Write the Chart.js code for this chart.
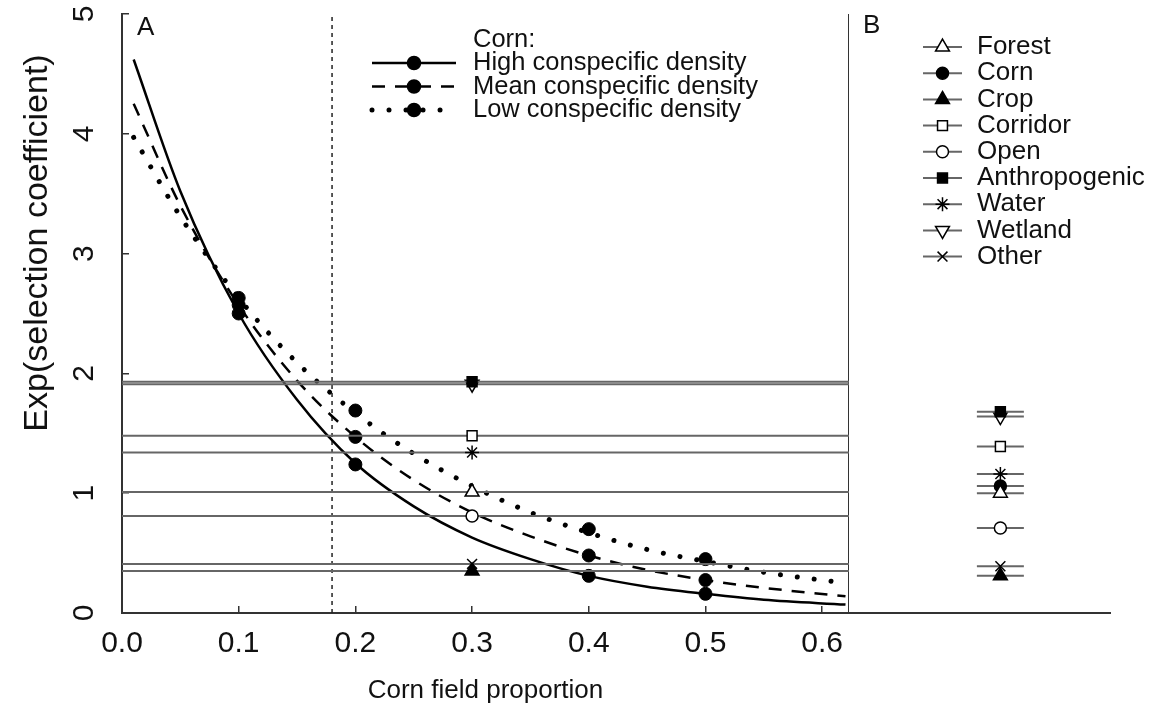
<!DOCTYPE html>
<html>
<head>
<meta charset="utf-8">
<script src="https://cdn.jsdelivr.net/npm/chart.js@4.4.1/dist/chart.umd.min.js"></script>
<style>
  html, body { margin: 0; padding: 0; background: #fff; }
</style>
</head>
<body>
<canvas id="chart" width="1170" height="715"></canvas>
<script>
// ---- data ----
// panel A: fitted corn selection curves (exp scale) vs corn field proportion
const curveX = [0.01, 0.05, 0.1, 0.15, 0.2, 0.25, 0.3, 0.35, 0.4, 0.45, 0.5, 0.55, 0.62];
const highCurve = [4.62, 3.52, 2.50, 1.78, 1.25, 0.89, 0.63, 0.45, 0.31, 0.22, 0.16, 0.11, 0.07];
const meanCurve = [4.25, 3.40, 2.57, 1.94, 1.47, 1.11, 0.84, 0.64, 0.48, 0.36, 0.275, 0.21, 0.14];
const lowCurve = [3.97, 3.31, 2.63, 2.09, 1.67, 1.33, 1.06, 0.84, 0.67, 0.53, 0.43, 0.34, 0.25];

// observed corn points
const cornX = [0.1, 0.2, 0.4, 0.5];
const highPts = [2.50, 1.24, 0.31, 0.16];
const meanPts = [2.57, 1.47, 0.48, 0.275];
const lowPts = [2.63, 1.69, 0.70, 0.45];

// other habitats: panel A (marker at corn proportion 0.3) and panel B
const habitats = ['Forest', 'Corn', 'Crop', 'Corridor', 'Open', 'Anthropogenic', 'Water', 'Wetland', 'Other'];
const habitatA = [1.01, null, 0.35, 1.48, 0.81, 1.93, 1.34, 1.91, 0.41];
const habitatB = [1.00, 1.06, 0.31, 1.39, 0.71, 1.68, 1.16, 1.64, 0.39];
const habitatAX = 0.3;

const thresholdX = 0.18;
const xMax = 0.623;
const xTicks = [0, 0.1, 0.2, 0.3, 0.4, 0.5, 0.6];
const xTickLabels = ['0.0', '0.1', '0.2', '0.3', '0.4', '0.5', '0.6'];
const yTicks = [0, 1, 2, 3, 4, 5];

const FONT = '"Liberation Sans", Arial, sans-serif';
const AXIS = '#333';
const HLINE = '#666';

// marker look for each habitat
const markers = {
  Forest:        { pointStyle: 'triangle', rotation: 0,   fill: '#fff', radius: 8 },
  Corn:          { pointStyle: 'circle',   rotation: 0,   fill: '#000', radius: 6 },
  Crop:          { pointStyle: 'triangle', rotation: 0,   fill: '#000', radius: 8 },
  Corridor:      { pointStyle: 'rect',     rotation: 0,   fill: '#fff', radius: 7 },
  Open:          { pointStyle: 'circle',   rotation: 0,   fill: '#fff', radius: 6 },
  Anthropogenic: { pointStyle: 'rect',     rotation: 0,   fill: '#000', radius: 7 },
  Water:         { pointStyle: 'star',     rotation: 0,   fill: '#000', radius: 7 },
  Wetland:       { pointStyle: 'triangle', rotation: 180, fill: '#fff', radius: 8 },
  Other:         { pointStyle: 'crossRot', rotation: 0,   fill: '#000', radius: 7 }
};

const curveStyles = [
  { label: 'High conspecific density', ys: highCurve, pts: highPts, dash: [], width: 2.5, cap: 'butt' },
  { label: 'Mean conspecific density', ys: meanCurve, pts: meanPts, dash: [13, 10], width: 2.5, cap: 'butt' },
  { label: 'Low conspecific density', ys: lowCurve, pts: lowPts, dash: [0.01, 17], width: 5, cap: 'round' }
];

const datasets = [];

// habitat lines + markers, panel A
habitats.forEach((h, i) => {
  const v = habitatA[i];
  if (v === null) return;
  const m = markers[h];
  datasets.push({
    type: 'line', xAxisID: 'x', yAxisID: 'y',
    data: [{ x: 0, y: v }, { x: habitatAX, y: v }, { x: xMax, y: v }],
    borderColor: HLINE, borderWidth: 2,
    pointRadius: [0, m.radius, 0],
    pointStyle: m.pointStyle, pointRotation: m.rotation,
    pointBackgroundColor: m.fill, pointBorderColor: '#000', pointBorderWidth: 1.5
  });
});

// habitat segments + markers, panel B
habitats.forEach((h, i) => {
  const v = habitatB[i];
  const m = markers[h];
  datasets.push({
    type: 'line', xAxisID: 'xB', yAxisID: 'y',
    data: [{ x: 0.49, y: v }, { x: 0.58, y: v }, { x: 0.67, y: v }],
    borderColor: HLINE, borderWidth: 2,
    pointRadius: [0, m.radius, 0],
    pointStyle: m.pointStyle, pointRotation: m.rotation,
    pointBackgroundColor: m.fill, pointBorderColor: '#000', pointBorderWidth: 1.5
  });
});

// corn curves and observed points
curveStyles.forEach(c => {
  datasets.push({
    type: 'line', xAxisID: 'x', yAxisID: 'y',
    data: curveX.map((x, i) => ({ x: x, y: c.ys[i] })),
    borderColor: '#000', borderWidth: c.width, borderDash: c.dash, borderCapStyle: c.cap,
    cubicInterpolationMode: 'monotone', pointRadius: 0
  });
  datasets.push({
    type: 'scatter', xAxisID: 'x', yAxisID: 'y',
    data: cornX.map((x, i) => ({ x: x, y: c.pts[i] })),
    pointRadius: 6.5, pointBackgroundColor: '#000', pointBorderColor: '#000'
  });
});

// dotted threshold line and frame between the panels
datasets.push({
  type: 'line', xAxisID: 'x', yAxisID: 'y',
  data: [{ x: thresholdX, y: 0 }, { x: thresholdX, y: 5 }],
  borderColor: '#222', borderWidth: 1.5, borderDash: [4, 4], pointRadius: 0
});
datasets.push({
  type: 'line', xAxisID: 'x', yAxisID: 'y',
  data: [{ x: xMax, y: 0 }, { x: xMax, y: 5 }],
  borderColor: AXIS, borderWidth: 2, pointRadius: 0
});

// legends, panel letters and y title
const drawPoint = Chart.helpers.drawPoint;

function sample(ctx, x0, x1, y, lineOpts, pt) {
  ctx.save();
  ctx.strokeStyle = lineOpts.color;
  ctx.lineWidth = lineOpts.width;
  ctx.setLineDash(lineOpts.dash || []);
  ctx.lineCap = lineOpts.cap || 'butt';
  ctx.beginPath();
  ctx.moveTo(x0, y);
  ctx.lineTo(x1, y);
  ctx.stroke();
  ctx.restore();
  ctx.save();
  ctx.fillStyle = pt.fill;
  ctx.strokeStyle = '#000';
  ctx.lineWidth = 1.5;
  drawPoint(ctx, { pointStyle: pt.pointStyle, rotation: pt.rotation, radius: pt.radius, borderWidth: 1.5 }, (x0 + x1) / 2, y);
  ctx.restore();
}

const extras = {
  id: 'extras',
  afterDraw(chart) {
    const ctx = chart.ctx;
    ctx.save();
    ctx.fillStyle = '#111';
    ctx.textBaseline = 'middle';
    ctx.textAlign = 'left';

    ctx.font = '26px ' + FONT;
    ctx.fillText('A', 137, 28);
    ctx.fillText('B', 863, 26);

    // legend A
    ctx.font = '25.5px ' + FONT;
    ctx.fillText('Corn:', 473, 40);
    curveStyles.forEach((c, i) => {
      const y = 63 + i * 23.5;
      sample(ctx, 372, 456, y, { color: '#000', width: c.width, dash: c.dash, cap: c.cap },
        { pointStyle: 'circle', rotation: 0, radius: 6.5, fill: '#000' });
      ctx.fillStyle = '#111';
      ctx.fillText(c.label, 473, y);
    });

    // legend B
    ctx.font = '26px ' + FONT;
    habitats.forEach((h, i) => {
      const y = 47 + i * 26.2;
      sample(ctx, 923, 962, y, { color: HLINE, width: 2 }, markers[h]);
      ctx.fillStyle = '#111';
      ctx.fillText(h, 977, y);
    });

    // y axis title
    ctx.translate(38, 243);
    ctx.rotate(-Math.PI / 2);
    ctx.textAlign = 'center';
    ctx.font = '34px ' + FONT;
    ctx.fillText('Exp(selection coefficient)', 0, 0);
    ctx.restore();
  }
};

new Chart(document.getElementById('chart').getContext('2d'), {
  data: { datasets: datasets },
  options: {
    responsive: false,
    animation: false,
    devicePixelRatio: 1,
    layout: { padding: { top: 14, right: 60, left: 0, bottom: 0 } },
    plugins: { legend: { display: false }, tooltip: { enabled: false } },
    scales: {
      x: {
        type: 'linear', position: 'bottom', stack: 'bottom', stackWeight: 727,
        min: 0, max: xMax,
        afterBuildTicks: s => { s.ticks = xTicks.map(v => ({ value: v })); },
        afterFit: s => { s.height = 102; s.paddingLeft = 0; s.paddingRight = 0; },
        ticks: {
          color: '#111', padding: 20, font: { family: FONT, size: 30 },
          maxRotation: 0, autoSkip: false,
          callback: (v, i) => xTickLabels[i]
        },
        grid: { drawOnChartArea: false, drawTicks: true, tickLength: -7, color: AXIS, lineWidth: 1.5 },
        border: { color: AXIS, width: 2 },
        title: {
          display: true, text: 'Corn field proportion', color: '#111',
          font: { family: FONT, size: 26 }, padding: { top: 0, bottom: 9 }
        }
      },
      xB: {
        type: 'linear', position: 'bottom', stack: 'bottom', stackWeight: 261,
        min: 0, max: 1,
        afterFit: s => { s.height = 102; s.paddingLeft = 0; s.paddingRight = 0; },
        ticks: { display: false },
        grid: { display: false },
        border: { color: AXIS, width: 2 }
      },
      y: {
        type: 'linear', position: 'left', min: 0, max: 5,
        afterBuildTicks: s => { s.ticks = yTicks.map(v => ({ value: v })); },
        afterFit: s => { s.width = 122; s.paddingTop = 0; s.paddingBottom = 0; },
        ticks: {
          color: '#111', padding: 36, font: { family: FONT, size: 30 },
          minRotation: 90, maxRotation: 90, crossAlign: 'center'
        },
        grid: { drawOnChartArea: false, drawTicks: true, tickLength: -7, color: AXIS, lineWidth: 1.5 },
        border: { color: AXIS, width: 2 }
      }
    }
  },
  plugins: [extras]
});
</script>
</body>
</html>
